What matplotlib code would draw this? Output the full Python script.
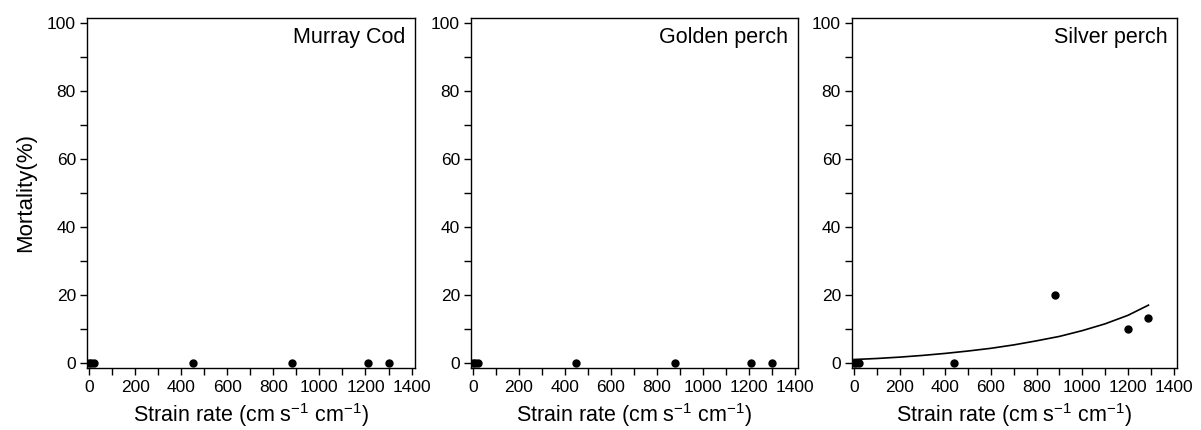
import numpy as np
import matplotlib
matplotlib.use("Agg")
from matplotlib import pyplot as plt

plt.rcParams['font.family'] = ['Liberation Sans', 'DejaVu Sans']
plt.rcParams['mathtext.fontset'] = 'custom'
plt.rcParams['mathtext.rm'] = 'Liberation Sans'

species = ['Murray Cod', 'Golden perch', 'Silver perch']
strain = [0, 10, 20, 450, 880, 1210, 1300]
strain_sp = [0, 10, 20, 440, 880, 1200, 1290]
mort_mc = [0, 0, 0, 0, 0, 0, 0]
mort_gp = [0, 0, 0, 0, 0, 0, 0]
mort_sp = [0, 0, 0, 0, 20, 10, 13.3]
# fitted curve
fit_x = [0, 100, 200, 300, 400, 500, 600, 700, 800, 900, 1000, 1100, 1200, 1290]
fit_y = [1.0, 1.3, 1.7, 2.2, 2.8, 3.5, 4.3, 5.3, 6.5, 7.8, 9.5, 11.5, 14.0, 17.0]

fig = plt.figure(figsize=(12.01, 4.30), dpi=100)
lefts = [87, 471, 852]
widths = [328, 327, 325]
xs = [strain, strain, strain_sp]
ys = [mort_mc, mort_gp, mort_sp]

xlabel = r'Strain rate (cm s$^{\mathregular{-1}}$ cm$^{\mathregular{-1}}$)'

for i in range(3):
    ax = fig.add_axes([lefts[i] / 1201, 62 / 430, widths[i] / 1201, 350 / 430])
    ax.plot(xs[i], ys[i], 'o', color='black', markersize=5)
    if i == 2:
        ax.plot(fit_x, fit_y, '-', color='black', linewidth=1.2)
    ax.set_xlim(-9, 1415)
    ax.set_ylim(-1.5, 101.5)
    ax.set_xticks(np.arange(0, 1401, 200))
    ax.set_xticks(np.arange(0, 1401, 100), minor=True)
    ax.set_yticks(np.arange(0, 101, 20))
    ax.set_yticks(np.arange(0, 101, 10), minor=True)
    ax.tick_params(which='both', direction='out', length=5, width=1, labelsize=12.5)
    ax.tick_params(axis='x', which='major', pad=4)
    ax.tick_params(axis='y', which='major', pad=3)
    for s in ax.spines.values():
        s.set_linewidth(1)
    ax.text(0.97, 0.945, species[i], transform=ax.transAxes, ha='right', va='center', fontsize=15.5)
    ax.set_xlabel(xlabel, fontsize=15.5, labelpad=4)
    if i == 0:
        ax.set_ylabel('Mortality(%)', fontsize=16, labelpad=8)

plt.savefig('out.png', dpi=100)
